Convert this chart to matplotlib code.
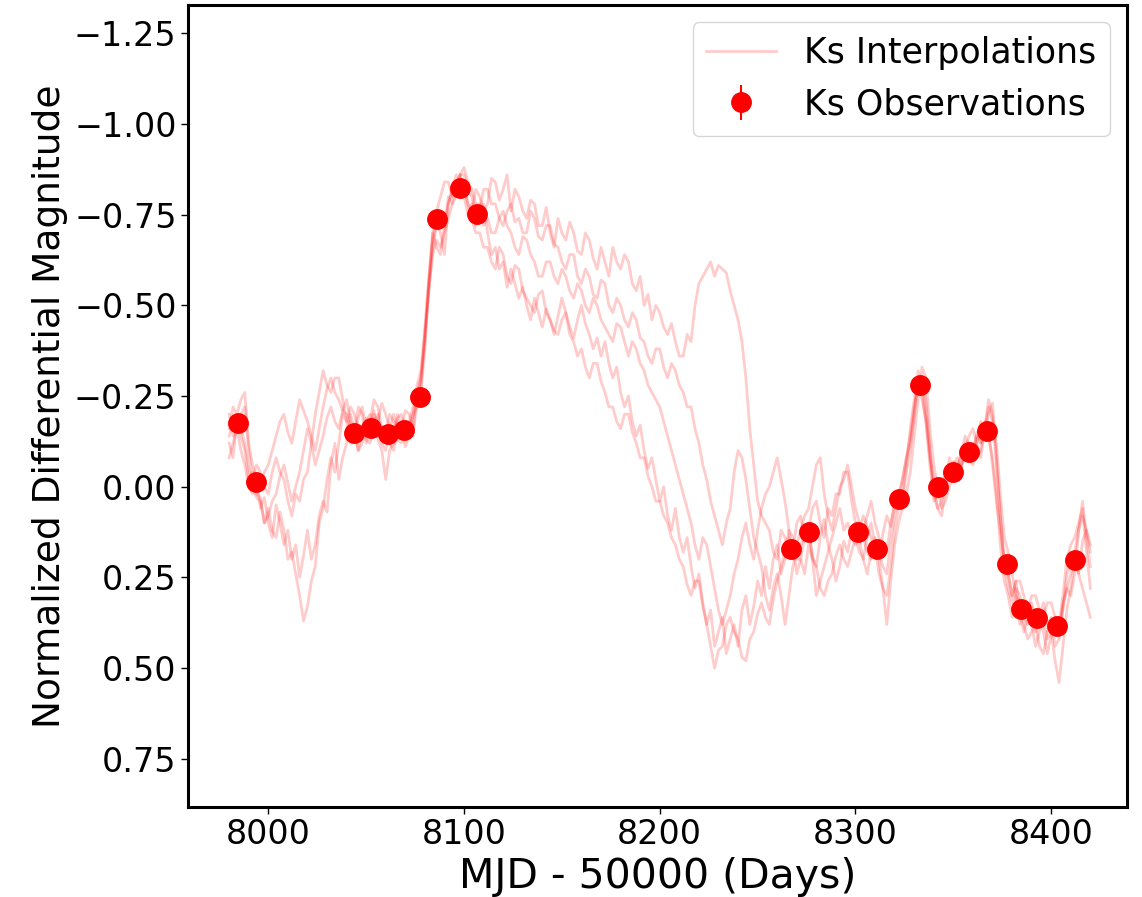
import numpy as np
import matplotlib
matplotlib.use("Agg")
import matplotlib.pyplot as plt

# observed Ks points (MJD - 50000, normalized differential magnitude)
obs_days = [7984.5, 7993.7, 8043.8, 8052.5, 8061.0, 8069.3, 8077.5, 8086.2, 8098.0, 8106.6,
            8267.0, 8276.2, 8301.2, 8311.0, 8322.2, 8333.0, 8342.0, 8349.8, 8358.0, 8367.0,
            8377.5, 8384.6, 8392.8, 8403.0, 8412.2]
obs_mag = [-0.176, -0.013, -0.148, -0.162, -0.145, -0.156, -0.247, -0.738, -0.823, -0.751,
           0.172, 0.125, 0.125, 0.172, 0.034, -0.280, 0.001, -0.040, -0.096, -0.154,
           0.213, 0.338, 0.362, 0.384, 0.202]
obs_err = [0.02] * len(obs_days)

# interpolated realisations, one value every 2 days from 7980 to 8420
# (each row below = 20 days)
interp_days = np.arange(7980, 8421, 2)

interp_1 = [
    -0.12, -0.08, -0.19, -0.14, -0.10, -0.02, -0.04, 0.02, 0.03, 0.10,
    0.06, 0.12, 0.14, 0.07, 0.12, 0.20, 0.18, 0.24, 0.30, 0.37,
    0.33, 0.26, 0.22, 0.10, 0.06, -0.02, -0.08, -0.04, -0.12, -0.20,
    -0.18, -0.12, -0.15, -0.22, -0.20, -0.12, -0.16, -0.21, -0.13, -0.10,
    -0.02, -0.10, -0.12, -0.20, -0.17, -0.11, -0.14, -0.20, -0.22, -0.28,
    -0.42, -0.56, -0.68, -0.73, -0.76, -0.72, -0.80, -0.78, -0.84, -0.86,
    -0.80, -0.75, -0.78, -0.72, -0.74, -0.78, -0.70, -0.64, -0.66, -0.60,
    -0.62, -0.55, -0.60, -0.56, -0.52, -0.55, -0.50, -0.46, -0.52, -0.48,
    -0.44, -0.49, -0.46, -0.42, -0.47, -0.52, -0.48, -0.44, -0.41, -0.46,
    -0.50, -0.45, -0.42, -0.38, -0.41, -0.36, -0.40, -0.34, -0.30, -0.33,
    -0.26, -0.22, -0.25, -0.18, -0.14, -0.17, -0.10, -0.05, -0.08, -0.02,
    0.04, 0.00, 0.08, 0.12, 0.06, 0.14, 0.18, 0.14, 0.22, 0.28,
    0.24, 0.32, 0.38, 0.34, 0.44, 0.40, 0.36, 0.46, 0.42, 0.38,
    0.44, 0.34, 0.30, 0.38, 0.33, 0.26, 0.30, 0.22, 0.28, 0.20,
    0.16, 0.24, 0.20, 0.14, 0.16, 0.24, 0.20, 0.14, 0.12, 0.19,
    0.22, 0.14, 0.09, 0.16, 0.20, 0.26, 0.22, 0.15, 0.18, 0.12,
    0.10, 0.15, 0.20, 0.24, 0.18, 0.14, 0.19, 0.13, 0.08, 0.11,
    0.05, 0.04, -0.02, -0.08, -0.12, -0.20, -0.28, -0.24, -0.18, -0.08,
    -0.02, 0.03, 0.00, -0.05, -0.02, -0.07, -0.04, -0.10, -0.08, -0.12,
    -0.09, -0.15, -0.12, -0.18, -0.15, -0.06, 0.04, 0.12, 0.20, 0.24,
    0.30, 0.26, 0.35, 0.40, 0.36, 0.32, 0.38, 0.34, 0.40, 0.46,
    0.41, 0.36, 0.40, 0.33, 0.28, 0.24, 0.20, 0.24, 0.15, 0.12,
    0.18]

interp_2 = [
    -0.08, -0.12, -0.16, -0.10, -0.06, 0.00, 0.02, -0.02, 0.06, 0.03,
    0.10, 0.14, 0.05, 0.10, 0.16, 0.12, 0.20, 0.16, 0.25, 0.19,
    0.12, 0.20, 0.16, 0.08, 0.04, 0.07, -0.06, -0.12, -0.02, -0.08,
    -0.12, -0.20, -0.16, -0.10, -0.12, -0.19, -0.18, -0.24, -0.22, -0.16,
    -0.14, -0.20, -0.18, -0.13, -0.12, -0.17, -0.18, -0.14, -0.24, -0.30,
    -0.40, -0.54, -0.66, -0.72, -0.70, -0.64, -0.78, -0.82, -0.86, -0.80,
    -0.82, -0.78, -0.76, -0.82, -0.80, -0.76, -0.78, -0.85, -0.84, -0.79,
    -0.82, -0.86, -0.76, -0.82, -0.80, -0.76, -0.74, -0.79, -0.78, -0.72,
    -0.72, -0.77, -0.70, -0.66, -0.74, -0.70, -0.68, -0.73, -0.70, -0.65,
    -0.64, -0.70, -0.68, -0.63, -0.60, -0.66, -0.62, -0.58, -0.66, -0.62,
    -0.60, -0.64, -0.62, -0.56, -0.54, -0.58, -0.50, -0.53, -0.46, -0.50,
    -0.48, -0.44, -0.42, -0.45, -0.40, -0.36, -0.36, -0.42, -0.40, -0.50,
    -0.56, -0.58, -0.60, -0.62, -0.58, -0.61, -0.60, -0.59, -0.54, -0.50,
    -0.46, -0.40, -0.30, -0.16, -0.06, 0.04, 0.08, 0.10, 0.12, 0.18,
    0.20, 0.12, 0.14, 0.19, 0.18, 0.10, 0.08, 0.15, 0.12, 0.06,
    0.04, 0.10, 0.14, 0.06, 0.08, 0.02, 0.02, -0.04, -0.04, 0.04,
    0.10, 0.12, 0.14, 0.18, 0.20, 0.16, 0.24, 0.28, 0.30, 0.22,
    0.12, 0.06, 0.02, -0.06, -0.16, -0.24, -0.30, -0.26, -0.18, -0.06,
    0.02, 0.06, 0.04, 0.00, -0.02, -0.06, -0.08, -0.04, -0.12, -0.08,
    -0.06, -0.12, -0.18, -0.14, -0.20, -0.23, -0.08, 0.08, 0.22, 0.28,
    0.32, 0.28, 0.30, 0.36, 0.38, 0.33, 0.40, 0.36, 0.32, 0.38,
    0.36, 0.44, 0.42, 0.34, 0.24, 0.21, 0.18, 0.12, 0.08, 0.12,
    0.16]

interp_3 = [
    -0.16, -0.22, -0.20, -0.24, -0.26, -0.12, -0.06, -0.02, 0.00, -0.04,
    -0.06, -0.10, -0.14, -0.18, -0.20, -0.15, -0.12, -0.18, -0.24, -0.21,
    -0.18, -0.14, -0.10, -0.16, -0.22, -0.27, -0.30, -0.26, -0.24, -0.21,
    -0.20, -0.16, -0.14, -0.19, -0.22, -0.16, -0.14, -0.20, -0.18, -0.23,
    -0.20, -0.16, -0.14, -0.19, -0.20, -0.15, -0.16, -0.20, -0.28, -0.32,
    -0.44, -0.58, -0.70, -0.76, -0.80, -0.84, -0.84, -0.80, -0.82, -0.86,
    -0.86, -0.82, -0.80, -0.74, -0.76, -0.82, -0.82, -0.78, -0.78, -0.74,
    -0.72, -0.76, -0.78, -0.73, -0.74, -0.70, -0.70, -0.76, -0.74, -0.69,
    -0.68, -0.72, -0.72, -0.67, -0.66, -0.62, -0.60, -0.64, -0.64, -0.58,
    -0.56, -0.60, -0.58, -0.53, -0.52, -0.57, -0.56, -0.50, -0.48, -0.52,
    -0.50, -0.46, -0.44, -0.48, -0.46, -0.41, -0.40, -0.36, -0.34, -0.38,
    -0.38, -0.33, -0.30, -0.34, -0.32, -0.28, -0.26, -0.22, -0.22, -0.16,
    -0.12, -0.06, -0.02, 0.04, 0.08, 0.12, 0.16, 0.10, 0.06, -0.04,
    -0.10, -0.08, -0.02, 0.06, 0.14, 0.18, 0.22, 0.30, 0.34, 0.28,
    0.24, 0.30, 0.38, 0.30, 0.22, 0.18, 0.16, 0.13, 0.10, 0.20,
    0.30, 0.26, 0.22, 0.18, 0.14, 0.10, 0.06, 0.12, 0.10, 0.14,
    0.16, 0.12, 0.08, 0.11, 0.14, 0.18, 0.20, 0.28, 0.38, 0.26,
    0.16, 0.10, 0.06, 0.02, -0.04, -0.14, -0.24, -0.33, -0.30, -0.16,
    -0.06, 0.00, 0.06, 0.04, 0.00, -0.04, -0.02, -0.06, -0.08, -0.10,
    -0.12, -0.08, -0.10, -0.16, -0.22, -0.18, -0.12, 0.02, 0.14, 0.18,
    0.24, 0.30, 0.38, 0.34, 0.32, 0.38, 0.44, 0.40, 0.36, 0.42,
    0.40, 0.48, 0.54, 0.44, 0.34, 0.28, 0.20, 0.24, 0.28, 0.32,
    0.36]

interp_4 = [
    -0.20, -0.14, -0.18, -0.16, -0.12, -0.05, 0.00, 0.03, 0.04, 0.10,
    0.08, 0.04, 0.02, -0.03, -0.06, -0.01, 0.04, 0.00, -0.04, -0.10,
    -0.16, -0.12, -0.06, -0.10, -0.14, -0.19, -0.22, -0.18, -0.16, -0.21,
    -0.24, -0.18, -0.14, -0.10, -0.16, -0.13, -0.12, -0.17, -0.20, -0.14,
    -0.16, -0.12, -0.10, -0.15, -0.16, -0.21, -0.20, -0.16, -0.26, -0.30,
    -0.42, -0.54, -0.64, -0.68, -0.66, -0.70, -0.74, -0.78, -0.80, -0.84,
    -0.84, -0.78, -0.74, -0.70, -0.70, -0.66, -0.66, -0.62, -0.60, -0.66,
    -0.64, -0.58, -0.56, -0.61, -0.60, -0.54, -0.52, -0.50, -0.48, -0.53,
    -0.54, -0.48, -0.46, -0.43, -0.42, -0.46, -0.48, -0.42, -0.40, -0.36,
    -0.38, -0.33, -0.30, -0.34, -0.34, -0.29, -0.26, -0.22, -0.22, -0.18,
    -0.16, -0.20, -0.20, -0.15, -0.12, -0.08, -0.08, -0.03, 0.00, 0.04,
    0.04, 0.08, 0.10, 0.14, 0.16, 0.20, 0.22, 0.27, 0.30, 0.26,
    0.26, 0.33, 0.38, 0.44, 0.50, 0.45, 0.44, 0.38, 0.36, 0.40,
    0.42, 0.47, 0.48, 0.42, 0.40, 0.35, 0.32, 0.36, 0.38, 0.31,
    0.26, 0.22, 0.18, 0.12, 0.14, 0.20, 0.20, 0.24, 0.16, 0.20,
    0.22, 0.28, 0.30, 0.26, 0.24, 0.19, 0.16, 0.20, 0.22, 0.18,
    0.14, 0.18, 0.20, 0.14, 0.10, 0.16, 0.18, 0.22, 0.24, 0.15,
    0.08, 0.03, 0.04, -0.04, -0.10, -0.20, -0.32, -0.28, -0.24, -0.10,
    0.04, 0.02, 0.00, -0.03, -0.06, -0.02, -0.04, -0.09, -0.14, -0.11,
    -0.10, -0.14, -0.12, -0.16, -0.14, -0.08, 0.02, 0.16, 0.26, 0.30,
    0.36, 0.30, 0.32, 0.38, 0.42, 0.40, 0.38, 0.44, 0.46, 0.40,
    0.38, 0.36, 0.40, 0.32, 0.28, 0.30, 0.24, 0.12, 0.04, 0.14,
    0.22]

interp_5 = [
    -0.14, -0.18, -0.17, -0.20, -0.22, -0.10, -0.02, -0.06, -0.04, 0.00,
    0.02, -0.04, -0.08, -0.04, -0.02, 0.04, 0.08, 0.02, 0.04, -0.02,
    -0.04, -0.12, -0.20, -0.26, -0.32, -0.28, -0.26, -0.30, -0.30, -0.24,
    -0.18, -0.22, -0.20, -0.16, -0.14, -0.18, -0.20, -0.15, -0.16, -0.12,
    -0.10, -0.16, -0.20, -0.16, -0.14, -0.18, -0.18, -0.22, -0.24, -0.26,
    -0.38, -0.56, -0.70, -0.66, -0.64, -0.72, -0.78, -0.82, -0.82, -0.86,
    -0.88, -0.84, -0.82, -0.78, -0.78, -0.72, -0.74, -0.70, -0.70, -0.74,
    -0.76, -0.72, -0.70, -0.66, -0.64, -0.69, -0.68, -0.64, -0.62, -0.58,
    -0.58, -0.62, -0.62, -0.58, -0.56, -0.60, -0.58, -0.54, -0.52, -0.56,
    -0.54, -0.50, -0.48, -0.52, -0.50, -0.46, -0.44, -0.42, -0.40, -0.45,
    -0.44, -0.40, -0.36, -0.40, -0.38, -0.34, -0.32, -0.28, -0.26, -0.24,
    -0.22, -0.18, -0.14, -0.10, -0.06, -0.02, 0.02, 0.06, 0.10, 0.16,
    0.20, 0.14, 0.16, 0.22, 0.28, 0.34, 0.38, 0.34, 0.30, 0.24,
    0.20, 0.14, 0.10, 0.16, 0.20, 0.12, 0.06, 0.02, 0.00, -0.04,
    -0.08, -0.02, 0.04, 0.12, 0.20, 0.16, 0.12, 0.08, 0.06, 0.00,
    -0.06, -0.08, 0.02, 0.08, 0.12, 0.06, 0.00, -0.02, -0.06, 0.00,
    0.06, 0.10, 0.12, 0.08, 0.04, 0.10, 0.14, 0.16, 0.18, 0.10,
    0.04, 0.02, -0.02, -0.08, -0.14, -0.22, -0.28, -0.30, -0.20, -0.10,
    0.00, 0.06, 0.08, 0.00, -0.08, -0.04, -0.02, -0.06, -0.10, -0.14,
    -0.16, -0.12, -0.08, -0.16, -0.24, -0.20, -0.06, 0.08, 0.20, 0.24,
    0.30, 0.26, 0.26, 0.30, 0.34, 0.30, 0.30, 0.34, 0.36, 0.32,
    0.32, 0.36, 0.38, 0.30, 0.20, 0.16, 0.14, 0.10, 0.06, 0.18,
    0.28]

interps = [interp_1, interp_2, interp_3, interp_4, interp_5]

fig = plt.figure(figsize=(11.42, 8.97), dpi=100)
ax = fig.add_axes([0.165, 0.1007, 0.822, 0.8937])

for i, vals in enumerate(interps):
    ax.plot(interp_days, vals, color='red', alpha=0.2, lw=2,
            label='Ks Interpolations' if i == 0 else None)

ax.errorbar(obs_days, obs_mag, yerr=obs_err, fmt='o', color='red', ms=14,
            label='Ks Observations', zorder=3)

ax.set_xlim(7959.2, 8438.8)
ax.set_ylim(0.882, -1.328)
ax.set_yticks([-1.25, -1.0, -0.75, -0.5, -0.25, 0.0, 0.25, 0.5, 0.75])
ax.set_xticks([8000, 8100, 8200, 8300, 8400])

ax.tick_params(labelsize=24, length=5, width=1)
for sp in ax.spines.values():
    sp.set_linewidth(2.2)

ax.set_xlabel('MJD - 50000 (Days)', fontsize=29.5)
ax.set_ylabel('Normalized Differential Magnitude', fontsize=27)
ax.legend(loc='upper right', fontsize=25)

fig.savefig('out.png', dpi=100)
